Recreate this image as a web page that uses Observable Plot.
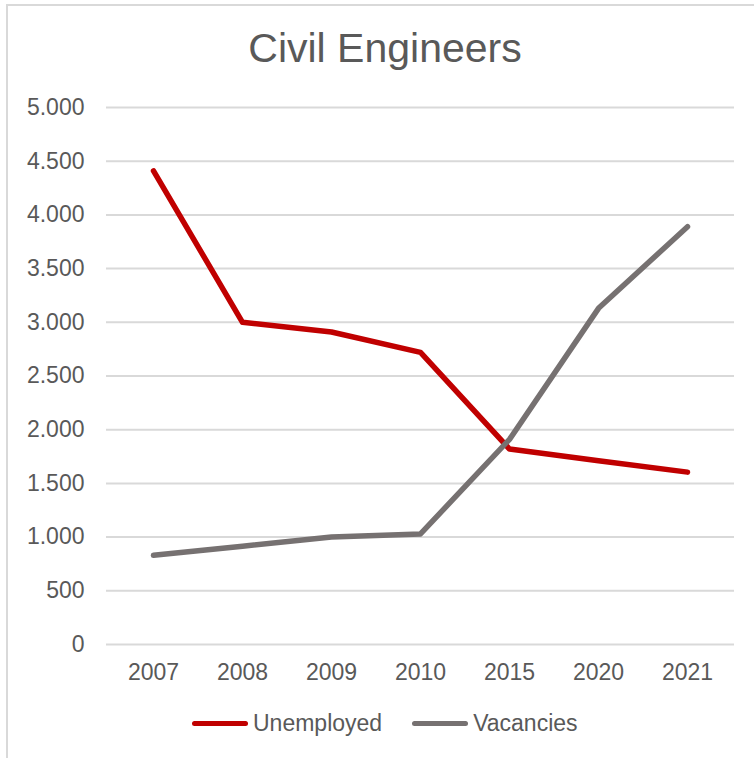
<!DOCTYPE html>
<html>
<head>
<meta charset="utf-8">
<script src="https://cdn.jsdelivr.net/npm/d3@7"></script>
<script src="https://cdn.jsdelivr.net/npm/@observablehq/plot@0.6"></script>
<style>
  html, body { margin: 0; padding: 0; background: #fff; }
  body { width: 754px; height: 758px; overflow: hidden; position: relative; font-family: "Liberation Sans", Arial, sans-serif; color: #595959; }
  #frame { position: absolute; left: 6px; top: 4px; width: 760px; height: 770px; border: 2px solid #D9D9D9; box-sizing: border-box; }
  #title { position: absolute; left: 385px; top: 28px; transform: translateX(-50%); font-size: 41px; line-height: 41px; white-space: nowrap; color: #595959; }
  #chart { position: absolute; left: 0; top: 80px; }
  #legend { position: absolute; left: 192px; top: 711px; display: flex; align-items: center; font-size: 23px; line-height: 24px; color: #595959; }
  .item { display: flex; align-items: center; }
  .sw { width: 56px; height: 5px; border-radius: 3px; margin-right: 5px; }
</style>
</head>
<body>
<div id="frame"></div>
<div id="title">Civil Engineers</div>
<div id="chart"></div>
<div id="legend"></div>
<script>
const years = ["2007", "2008", "2009", "2010", "2015", "2020", "2021"];
const unemployed = [4410, 3000, 2910, 2720, 1820, 1710, 1605];
const vacancies = [830, 915, 1000, 1030, 1910, 3130, 3890];
const seriesNames = ["Unemployed", "Vacancies"];
const seriesColors = ["#C00000", "#767171"];
const yTicks = [0, 500, 1000, 1500, 2000, 2500, 3000, 3500, 4000, 4500, 5000];

const data = [];
years.forEach((y, i) => data.push({year: y, value: unemployed[i], series: seriesNames[0]}));
years.forEach((y, i) => data.push({year: y, value: vacancies[i], series: seriesNames[1]}));

const fmt = d3.formatLocale({decimal: ",", thousands: ".", grouping: [3], currency: ["", ""]}).format(",");

const chart = Plot.plot({
  width: 754,
  height: 614,
  marginLeft: 106,
  marginRight: 20,
  marginTop: 27,
  marginBottom: 50,
  style: {fontFamily: "'Liberation Sans', Arial, sans-serif", fontSize: "23px", color: "#595959", background: "transparent"},
  x: {type: "point", domain: years, padding: 0.5},
  y: {domain: [0, 5000]},
  color: {domain: seriesNames, range: seriesColors},
  marks: [
    Plot.gridY(yTicks, {stroke: "#D9D9D9", strokeOpacity: 1, strokeWidth: 2}),
    Plot.axisY(yTicks, {tickSize: 0, tickPadding: 22, tickFormat: fmt, fill: "#595959", fontSize: 23, label: null}),
    Plot.axisX(years, {tickSize: 0, tickPadding: 19, fill: "#595959", fontSize: 23, label: null}),
    Plot.line(data, {x: "year", y: "value", stroke: "series", z: "series", strokeWidth: 5.5, strokeLinejoin: "round", strokeLinecap: "round"})
  ]
});
document.getElementById("chart").appendChild(chart);

const legend = document.getElementById("legend");
seriesNames.forEach((name, i) => {
  const item = document.createElement("div");
  item.className = "item";
  if (i > 0) item.style.marginLeft = "30px";
  const sw = document.createElement("div");
  sw.className = "sw";
  sw.style.background = seriesColors[i];
  const t = document.createElement("span");
  t.textContent = name;
  item.appendChild(sw);
  item.appendChild(t);
  legend.appendChild(item);
});
</script>
</body>
</html>
